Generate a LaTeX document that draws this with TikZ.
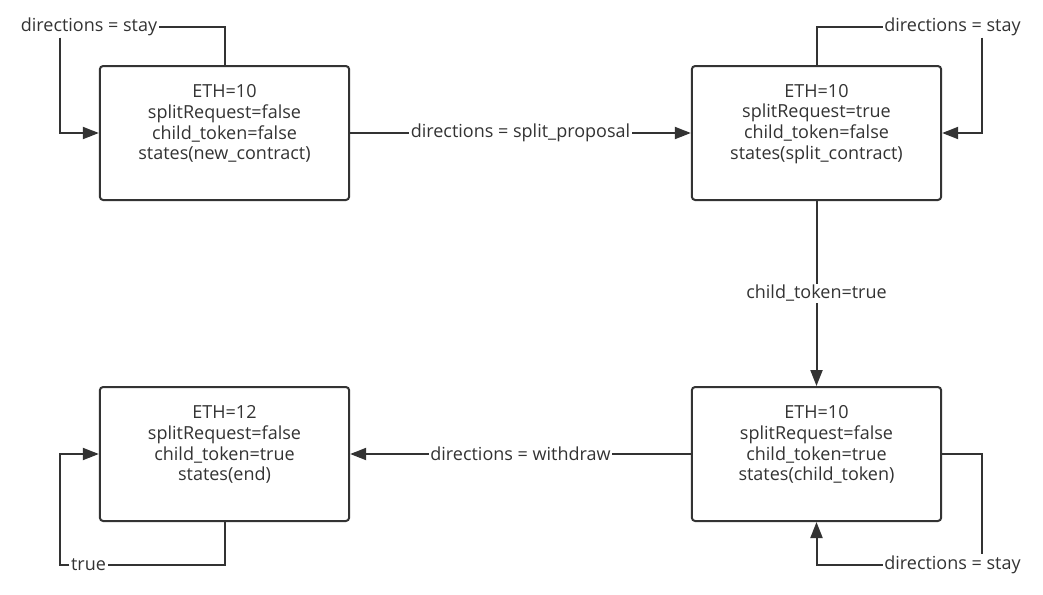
\documentclass[tikz,border=0pt]{standalone}
\usepackage{fontspec}
\setmainfont{Open Sans}
\usetikzlibrary{arrows.meta}
\definecolor{ink}{HTML}{333333}
\begin{document}
\begin{tikzpicture}[x=0.75pt,y=-0.75pt,>={Triangle[length=12pt,width=9pt]},
  state/.style={draw=ink,line width=1.5pt,rounded corners=2.5pt,minimum width=187pt,minimum height=100.5pt,inner sep=0pt},
  info/.style={text=ink,align=center,inner sep=0pt,font=\fontsize{13.5}{15.5}\selectfont},
  tag/.style={fill=white,text=ink,inner sep=1pt,font=\fontsize{13.5}{15}\selectfont},
  link/.style={draw=ink,line width=1.5pt}]
  \fill[white] (0,0) rectangle (1043,594);
  % states
  \node[state] (tl) at (224.5,133) {};
  \node[state] (tr) at (816.5,133) {};
  \node[state] (bl) at (224.5,454) {};
  \node[state] (br) at (816.5,454) {};
  \node[info] (tlinfo) at ([yshift=7pt]tl.center) {ETH=10\\splitRequest=false\\child\_token=false\\states(new\_contract)};
  \node[info] (trinfo) at ([yshift=7pt]tr.center) {ETH=10\\splitRequest=true\\child\_token=false\\states(split\_contract)};
  \node[info] (blinfo) at ([yshift=7pt]bl.center) {ETH=12\\splitRequest=false\\child\_token=true\\states(end)};
  \node[info] (brinfo) at ([yshift=7pt]br.center) {ETH=10\\splitRequest=false\\child\_token=true\\states(child\_token)};
  % transitions
  \draw[link,->] (tl) -- node[tag] (split) {directions = split\_proposal} (tr);
  \draw[link,->] (tr) -- node[tag] (child) {child\_token=true} (br);
  \draw[link,->] (br) -- node[tag] (withdraw) {directions = withdraw} (bl);
  % self loops
  \node[tag] (stayA) at (89,27) {directions = stay};
  \node[tag] (stayB) at (952.5,27) {directions = stay};
  \node[tag] (stayC) at (952.5,565) {directions = stay};
  \node[tag] (loopT) at (88.5,565) {true};
  \draw[link] (tl.north) |- (stayA.east);
  \draw[link,->] (stayA.south -| 60,0) |- (tl.west);
  \draw[link] (tr.north) |- (stayB.west);
  \draw[link,->] (stayB.south -| 982,0) |- (tr.east);
  \draw[link] (br.east) -| (stayC.north -| 982,0);
  \draw[link,->] (stayC.west) -| (br.south);
  \draw[link] (bl.south) |- (loopT.east);
  \draw[link,->] (loopT.west) -| (bl.west -| 60,0) -- (bl.west);
\end{tikzpicture}
\end{document}
